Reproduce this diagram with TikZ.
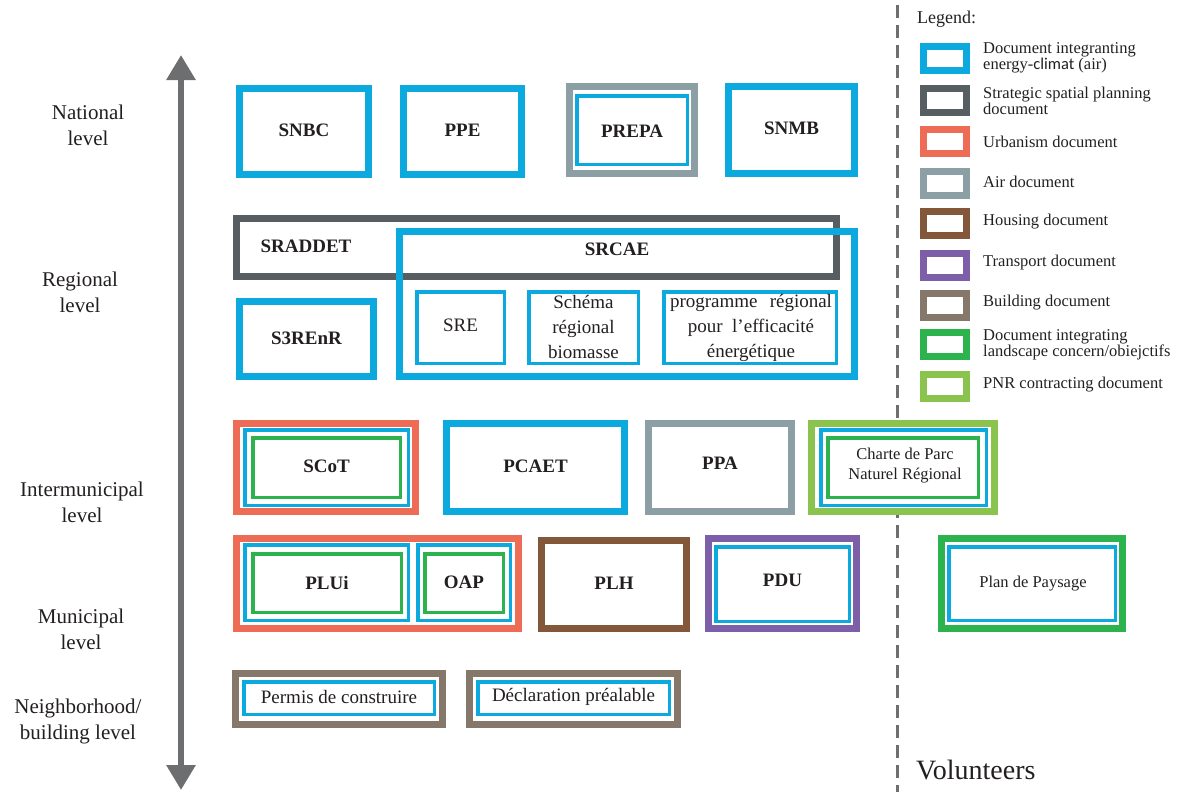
\documentclass[tikz,border=0pt]{standalone}
\usepackage{fontspec}
\setmainfont{Liberation Serif}
\newfontfamily\climatfont{Carlito}
\usetikzlibrary{arrows.meta}
\definecolor{cblue}{HTML}{0BA9DD}
\definecolor{cstrat}{HTML}{575E61}
\definecolor{curb}{HTML}{EE6C56}
\definecolor{cair}{HTML}{8C9FA4}
\definecolor{chouse}{HTML}{83573A}
\definecolor{ctrans}{HTML}{7D5FA9}
\definecolor{cbuild}{HTML}{85786B}
\definecolor{cgreen}{HTML}{2CB34D}
\definecolor{clight}{HTML}{8BC34F}
\definecolor{carrow}{HTML}{6D6E70}
\definecolor{ink}{HTML}{231F20}
\begin{document}
\begin{tikzpicture}[x=1pt,y=-1pt,
  doc/.style={draw=#1, line width=7pt, fill=white, inner sep=0pt, rectangle},
  subdoc/.style={draw=#1, line width=3.5pt, inner sep=0pt, rectangle},
  bold/.style={font=\fontsize{19}{24}\selectfont\bfseries, text=ink, align=center, inner sep=0pt},
  reg/.style={font=\fontsize{19}{25}\selectfont, text=ink, align=center, inner sep=0pt},
  small/.style={font=\fontsize{16.5}{20}\selectfont, text=ink, align=center, inner sep=0pt},
  level/.style={font=\fontsize{21}{26}\selectfont, text=ink, align=center, inner sep=0pt},
  legbox/.style={draw=#1, line width=7pt, fill=white, inner sep=0pt, minimum width=43pt, minimum height=24pt},
  legtext/.style={font=\fontsize{16.5}{16}\selectfont, text=ink, align=left, anchor=west, inner sep=0pt},
  axis/.style={draw=carrow, line width=6pt, {Triangle[width=28pt,length=25pt]}-{Triangle[width=28pt,length=25pt]}},
  sep/.style={draw=carrow, line width=3pt, dash pattern=on 13pt off 7pt}
]
\useasboundingbox (0,0) rectangle (1180,792);
% axis and separator
\coordinate (atop) at (181,55);
\coordinate (abot) at (181,790);
\draw[axis] (atop) -- (abot);
\coordinate (dtop) at (897,5);
\coordinate (dbot) at (897,792);
\draw[sep] (dtop) -- (dbot);

% level labels
\node[level] (lnat) at (88,125) {National\\level};
\node[level] (lreg) at (80,292) {Regional\\level};
\node[level] (linter) at (82,502) {Intermunicipal\\level};
\node[level] (lmun) at (81,629) {Municipal\\level};
\node[level] (lnei) at (78,721) {Neighborhood/\\building level};

% national
\node[doc=cblue, minimum width=129pt, minimum height=86pt] (snbc) at (304,131.5) {};
\node[bold] (snbcl) at (304,130) {SNBC};
\node[doc=cblue, minimum width=118pt, minimum height=86pt] (ppe) at (462.5,131.5) {};
\node[bold] (ppel) at (462.5,130) {PPE};
\node[doc=cair, minimum width=125pt, minimum height=87pt] (prepao) at (632,130) {};
\node[subdoc=cblue, minimum width=110.5pt, minimum height=68.5pt] (prepai) at (632,130) {};
\node[bold] (prepal) at (632,131) {PREPA};
\node[doc=cblue, minimum width=126pt, minimum height=87pt] (snmb) at (791.5,130) {};
\node[bold] (snmbl) at (791.5,128) {SNMB};

% regional
\node[doc=cstrat, minimum width=600pt, minimum height=58pt] (sraddet) at (536.5,247.5) {};
\node[bold] (sraddetl) at (306,246) {SRADDET};
\node[draw=cblue, line width=7pt, inner sep=0pt, minimum width=455pt, minimum height=145pt] (srcae) at (627,304) {};
\node[bold] (srcael) at (617,249) {SRCAE};
\node[doc=cblue, minimum width=134pt, minimum height=75pt] (s3renr) at (306.5,339) {};
\node[bold] (s3renrl) at (306.5,338) {S3REnR};
\node[subdoc=cblue, minimum width=87.5pt, minimum height=71.5pt] (sre) at (460.5,327.5) {};
\node[reg] (srel) at (460.5,325) {SRE};
\node[subdoc=cblue, minimum width=109.5pt, minimum height=71.5pt] (srb) at (583.5,327.5) {};
\node[reg] (srbl) at (583.5,327) {Schéma\\régional\\biomasse};
\node[subdoc=cblue, minimum width=172.5pt, minimum height=71.5pt] (pree) at (750,327.5) {};
\node[reg] (preel) at (751,327.5) {\makebox[162pt]{programme\hfill régional}\\pour\ \ l’efficacité\\énergétique};

% intermunicipal
\node[doc=curb, minimum width=179pt, minimum height=88pt] (scoto) at (326,467.5) {};
\node[subdoc=cblue, minimum width=163.5pt, minimum height=75.5pt] (scotb) at (326.5,467.5) {};
\node[subdoc=cgreen, minimum width=147.5pt, minimum height=59.5pt] (scotg) at (326.5,467.5) {};
\node[bold] (scotl) at (326.5,466) {SCoT};
\node[doc=cblue, minimum width=178pt, minimum height=88pt] (pcaet) at (535.5,467.5) {};
\node[bold] (pcaetl) at (535.5,466) {PCAET};
\node[doc=cair, minimum width=143pt, minimum height=88pt] (ppa) at (720,467.5) {};
\node[bold] (ppal) at (720,463) {PPA};
\node[doc=clight, minimum width=183pt, minimum height=88pt] (pnro) at (903,467.5) {};
\node[subdoc=cblue, minimum width=165.5pt, minimum height=75.5pt] (pnrb) at (903.5,467.5) {};
\node[subdoc=cgreen, minimum width=150.5pt, minimum height=59.5pt] (pnrg) at (903,467.5) {};
\node[small] (pnrl) at (905,466) {Charte de Parc\\Naturel Régional};

% municipal
\node[doc=curb, minimum width=282pt, minimum height=90pt] (pluo) at (377.5,583.5) {};
\node[subdoc=cblue, minimum width=163.5pt, minimum height=75.5pt] (plub) at (326.5,582.5) {};
\node[subdoc=cgreen, minimum width=148.5pt, minimum height=58.5pt] (plug) at (327,583) {};
\node[bold] (plul) at (327,583) {PLUi};
\node[subdoc=cblue, minimum width=92.5pt, minimum height=75.5pt] (oapb) at (464,582.5) {};
\node[subdoc=cgreen, minimum width=78.5pt, minimum height=58.5pt] (oapg) at (464,583) {};
\node[bold] (oapl) at (464,582) {OAP};
\node[doc=chouse, minimum width=145pt, minimum height=88pt] (plh) at (614,584.5) {};
\node[bold] (plhl) at (614,583) {PLH};
\node[doc=ctrans, minimum width=148pt, minimum height=90pt] (pduo) at (782.5,583.5) {};
\node[subdoc=cblue, minimum width=133.5pt, minimum height=74.5pt] (pdub) at (782.5,584) {};
\node[bold] (pdul) at (782.5,580) {PDU};
\node[doc=cgreen, minimum width=181pt, minimum height=90pt] (paysageo) at (1032,583.5) {};
\node[subdoc=cblue, minimum width=166.5pt, minimum height=73.5pt] (paysageb) at (1032,583.5) {};
\node[small] (paysagel) at (1033,584) {Plan de Paysage};

% neighborhood
\node[doc=cbuild, minimum width=207pt, minimum height=51pt] (permo) at (339,699) {};
\node[subdoc=cblue, minimum width=190.5pt, minimum height=32.5pt] (permb) at (339,698) {};
\node[reg] (perml) at (339,697) {Permis de construire};
\node[doc=cbuild, minimum width=208pt, minimum height=51pt] (declo) at (573.5,699) {};
\node[subdoc=cblue, minimum width=191.5pt, minimum height=32.5pt] (declb) at (573.5,698) {};
\node[reg] (decll) at (573.5,697) {Déclaration préalable};

% legend
\node[font=\fontsize{18}{20}\selectfont, text=ink, anchor=west, inner sep=0pt] (legt) at (917,19) {Legend:};
\node[legbox=cblue] (lg1) at (945,58.5) {};
\node[legbox=cstrat] (lg2) at (945,100.5) {};
\node[legbox=curb] (lg3) at (945,141.5) {};
\node[legbox=cair] (lg4) at (945,183) {};
\node[legbox=chouse] (lg5) at (945,223.5) {};
\node[legbox=ctrans] (lg6) at (945,265) {};
\node[legbox=cbuild] (lg7) at (945,305.5) {};
\node[legbox=cgreen] (lg8) at (945,344.5) {};
\node[legbox=clight] (lg9) at (945,386) {};
\node[legtext] (lt1) at (983,57.5) {Document integranting\\energy-{\climatfont climat} (air)};
\node[legtext] (lt2) at (983,100.5) {Strategic spatial planning\\document};
\node[legtext] (lt3) at (983,142) {Urbanism document};
\node[legtext] (lt4) at (983,182) {Air document};
\node[legtext] (lt5) at (983,222) {Housing document};
\node[legtext] (lt6) at (983,263) {Transport document};
\node[legtext] (lt7) at (983,303) {Building document};
\node[legtext] (lt8) at (983,345) {Document integrating\\landscape concern/obiejctifs};
\node[legtext] (lt9) at (983,385) {PNR contracting document};

\node[font=\fontsize{28}{30}\selectfont, text=ink, anchor=west, inner sep=0pt] (vol) at (916,770) {Volunteers};
\end{tikzpicture}
\end{document}
